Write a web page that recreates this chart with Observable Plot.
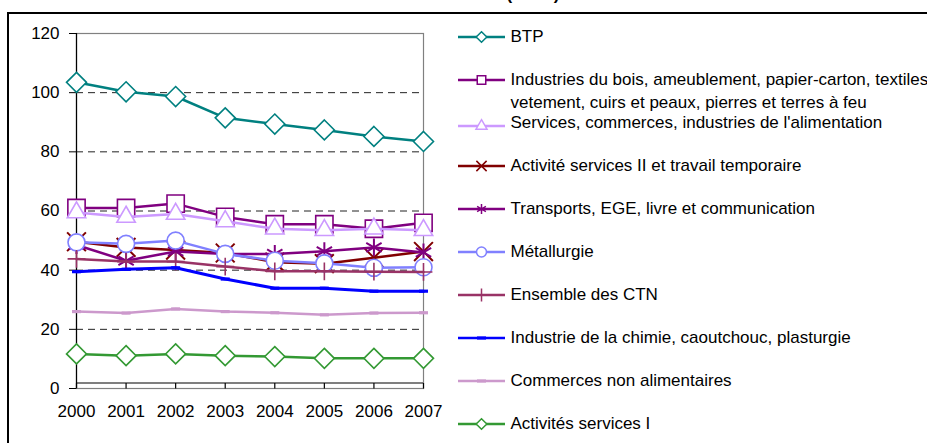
<!DOCTYPE html>
<html><head><meta charset="utf-8">
<script src="https://cdn.jsdelivr.net/npm/d3@7"></script>
<script src="https://cdn.jsdelivr.net/npm/@observablehq/plot@0.6"></script>
<style>
body{margin:0;background:#fff;font-family:"Liberation Sans",Arial,sans-serif;}
#wrap{position:relative;width:927px;height:443px;overflow:hidden;background:#fff;}
#frame{position:absolute;left:7px;top:12px;width:1000px;height:1000px;border-left:2px solid #000;border-top:2px solid #000;}
#title{position:absolute;top:-15px;left:0;width:1066px;text-align:center;font-weight:bold;font-size:17px;line-height:20px;white-space:nowrap;}
#chart{position:absolute;left:0;top:0;}
.lg-icon{position:absolute;left:457px;width:50px;height:20px;overflow:visible;}
.lg-text{position:absolute;left:510.5px;font-size:17px;line-height:17px;white-space:nowrap;color:#000;}
</style>
</head><body>
<div id="wrap">
  <div id="frame"></div>
  <div id="title">(en ‰)</div>
  <div id="chart"></div>
  <div id="legend"></div>
</div>
<script>
// ---- data ----
const years = [2000, 2001, 2002, 2003, 2004, 2005, 2006, 2007];
const yTicks = [0, 20, 40, 60, 80, 100, 120];
const seriesNames = [
  "BTP",
  "Industries du bois, ameublement, papier-carton, textiles\nvetement, cuirs et peaux, pierres et terres à feu",
  "Services, commerces, industries de l'alimentation",
  "Activité services II et travail temporaire",
  "Transports, EGE, livre et communication",
  "Métallurgie",
  "Ensemble des CTN",
  "Industrie de la chimie, caoutchouc, plasturgie",
  "Commerces non alimentaires",
  "Activités services I"
];
const btp        = [103.5, 100.3, 98.7, 91.5, 89.4, 87.4, 85.2, 83.5];
const boisTextile= [61.0, 61.0, 62.5, 58.0, 55.5, 55.5, 54.0, 56.0];
const servicesAlim=[59.5, 58.0, 59.0, 56.5, 54.0, 53.5, 54.0, 53.5];
const servicesII = [49.6, 47.7, 46.8, 45.8, 42.7, 42.2, 44.2, 46.3];
const transports = [48.5, 43.2, 46.3, 45.5, 45.5, 46.4, 47.7, 46.0];
const metallurgie= [49.4, 48.9, 50.0, 45.5, 43.2, 42.3, 40.8, 41.0];
const ensemble   = [43.8, 42.9, 42.9, 41.2, 39.6, 39.6, 39.5, 39.4];
const chimie     = [39.5, 40.3, 40.8, 37.0, 33.9, 33.9, 32.9, 32.9];
const commerces  = [26.0, 25.5, 26.9, 26.0, 25.6, 24.9, 25.5, 25.6];
const servicesI  = [11.7, 11.1, 11.7, 11.1, 10.8, 10.2, 10.2, 10.2];
const seriesValues = [btp, boisTextile, servicesAlim, servicesII, transports, metallurgie, ensemble, chimie, commerces, servicesI];
const seriesColors = ["#008080", "#800080", "#CC99FF", "#800000", "#800080", "#8080FF", "#993366", "#0000FF", "#CC99CC", "#339933"];

// ---- styles ----
const dashSym = {draw(ctx){ ctx.moveTo(-4.5,-1.6); ctx.lineTo(4.5,-1.6); ctx.lineTo(4.5,1.6); ctx.lineTo(-4.5,1.6); ctx.closePath(); }};
const tickUp = {draw(ctx){ ctx.moveTo(0,0); ctx.lineTo(0,-5.5); }};
const markerStyle = [
  {symbol:"diamond2", r:9, fill:"#fff", d3s:d3.symbolDiamond2, ls:72, sw:1.6},
  {symbol:"square2", r:11, fill:"#fff", d3s:d3.symbolSquare2, ls:92, sw:1.6},
  {symbol:"triangle2", r:8.8, fill:"#fff", d3s:d3.symbolTriangle2, ls:87, sw:1.6},
  {symbol:"times", r:8.6, fill:"none", d3s:d3.symbolTimes, ls:70, sw:2},
  {symbol:"asterisk", r:8.4, fill:"none", d3s:d3.symbolAsterisk, ls:72, sw:2},
  {symbol:"circle", r:8.5, fill:"#fff", d3s:d3.symbolCircle, ls:78, sw:1.6},
  {symbol:"plus", r:5.8, fill:"none", d3s:d3.symbolPlus, ls:57, sw:1.6},
  {symbol:dashSym, r:4, fill:"color", d3s:dashSym, ls:0, sw:0},
  {symbol:dashSym, r:4, fill:"color", d3s:dashSym, ls:0, sw:0},
  {symbol:"diamond2", r:9, fill:"#fff", d3s:d3.symbolDiamond2, ls:72, sw:1.6}
];
const lineWidths = [2.5, 2.5, 2.5, 2.5, 2.5, 2.5, 2.5, 3, 2.5, 2.5];

const table = [];
seriesValues.forEach((vals, i) => vals.forEach((v, j) => table.push({series: i, year: years[j], value: v})));

const marks = [
  Plot.ruleY([20, 40, 60, 80, 100], {stroke: "#222", strokeDasharray: "7,5", strokeWidth: 1}),
  Plot.frame({stroke: "#808080", strokeWidth: 1.2}),
  Plot.ruleX([2000], {stroke: "#000", strokeWidth: 1.2}),
  Plot.ruleY([0], {stroke: "#000", strokeWidth: 1.2, dy: -5.5}),
  Plot.dot(years, {x: d => d, frameAnchor: "bottom", symbol: tickUp, r: 4, stroke: "#000", strokeWidth: 1.2, fill: "none"}),
  Plot.axisY({ticks: yTicks, tickSize: 7, tickPadding: 10, tickFormat: d => String(d), label: null, fontSize: 17}),
  Plot.axisX({ticks: years, tickSize: 0, tickPadding: 16.6, tickFormat: d => String(d), label: null, fontSize: 17})
];
seriesValues.forEach((vals, i) => {
  const data = table.filter(d => d.series === i);
  const ms = markerStyle[i];
  marks.push(Plot.line(data, {x: "year", y: "value", stroke: seriesColors[i], strokeWidth: lineWidths[i], strokeLinejoin: "round"}));
  marks.push(Plot.dot(data, {x: "year", y: "value", symbol: ms.symbol, r: ms.r,
    stroke: ms.fill === "color" ? "none" : seriesColors[i],
    fill: ms.fill === "color" ? seriesColors[i] : ms.fill,
    strokeWidth: ms.sw}));
});

const chart = Plot.plot({
  width: 927, height: 443,
  marginLeft: 76, marginRight: 504, marginTop: 33, marginBottom: 55,
  style: {background: "transparent", fontFamily: "'Liberation Sans', Arial, sans-serif", fontSize: "17px", color: "#000", overflow: "visible"},
  x: {domain: [2000, 2007], label: null},
  y: {domain: [0, 120], label: null},
  marks
});
document.getElementById("chart").appendChild(chart);

// ---- legend ----
const legend = document.getElementById("legend");
seriesNames.forEach((name, i) => {
  const base = 36.5 + 43 * i;
  const iconCy = base + (i === 2 ? 3.5 : 0);
  const textCy = base + (i === 2 ? 0 : 0);
  const svg = d3.create("svg").attr("class", "lg-icon").attr("width", 50).attr("height", 20)
    .style("top", (iconCy - 10) + "px");
  svg.append("line").attr("x1", 1).attr("x2", 48).attr("y1", 10).attr("y2", 10)
    .attr("stroke", seriesColors[i]).attr("stroke-width", 2.5);
  const ms = markerStyle[i];
  const path = ms.ls ? d3.symbol(ms.d3s, ms.ls)() : d3.symbol(dashSym, 1)();
  svg.append("path").attr("d", path).attr("transform", "translate(24.5,10)")
    .attr("fill", ms.fill === "color" ? seriesColors[i] : ms.fill)
    .attr("stroke", ms.fill === "color" ? "none" : seriesColors[i])
    .attr("stroke-width", 1.5);
  legend.appendChild(svg.node());
  const lines = name.split("\n");
  lines.forEach((line, k) => {
    const t = document.createElement("div");
    t.className = "lg-text";
    const cy = lines.length > 1 ? textCy - 0.5 + 23 * k : textCy;
    t.style.top = (cy - 8.5) + "px";
    t.textContent = line;
    legend.appendChild(t);
  });
});
</script>
</body></html>
